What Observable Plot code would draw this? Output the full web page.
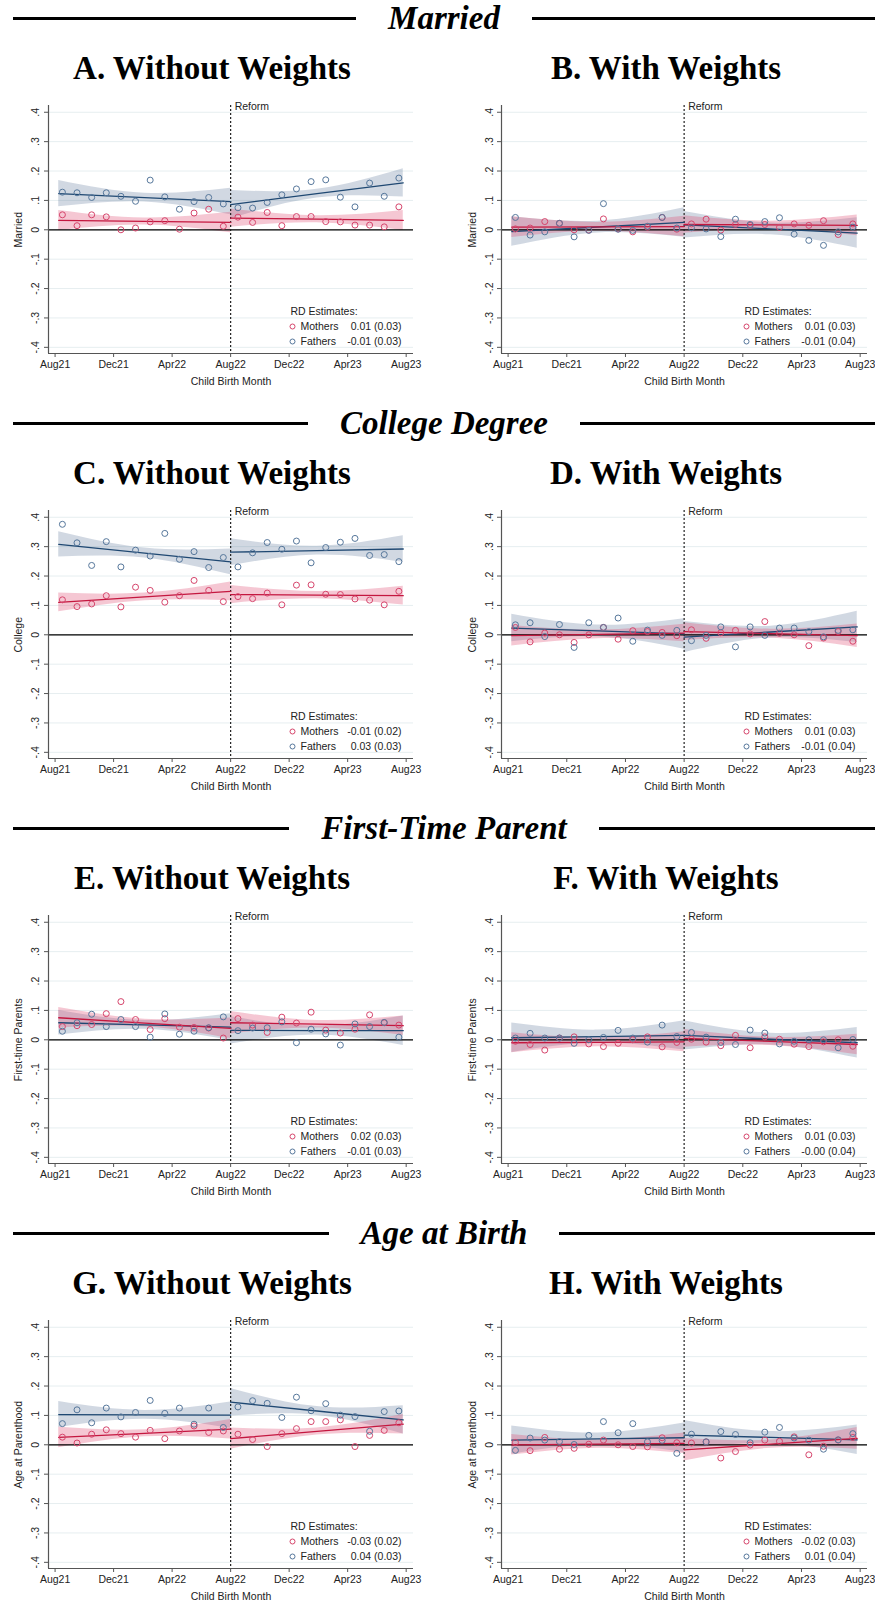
<!DOCTYPE html>
<html><head><meta charset="utf-8">
<script src="https://cdn.jsdelivr.net/npm/d3@7"></script>
<script src="https://cdn.jsdelivr.net/npm/@observablehq/plot@0.6"></script>
<style>
body{margin:0;width:875px;height:1604px;overflow:hidden;background:#fff}
#root{position:relative;width:875px;height:1604px}
.block{position:absolute;left:0;width:875px;height:405px}
.sec{position:absolute;left:13px;right:0;top:0;height:37px;display:flex;align-items:center}
.sec .ln{flex:1;height:2.5px;background:#000}
.sec .t{font:italic bold 33px "Liberation Serif",serif;padding:0 32px;line-height:37px;color:#000}
.sub{position:absolute;top:50px;line-height:40px;font:bold 33px "Liberation Serif",serif;transform:translateX(-50%);white-space:nowrap;color:#000}
.panel{position:absolute;top:92px}
.panel svg{overflow:visible}
</style>
</head><body><div id="root"></div>
<script>
// ---------- shared axes ----------
const monthPos = [0.5,1.5,2.5,3.5,4.5,5.5,6.5,7.5,8.5,9.5,10.5,11.5,12.5,13.5,14.5,15.5,16.5,17.5,18.5,19.5,20.5,21.5,22.5,23.5];
const xTicks = [0, 4, 8, 12, 16, 20, 24];
const xTickLabels = ["Aug21","Dec21","Apr22","Aug22","Dec22","Apr23","Aug23"];
const yTicks = [-0.4,-0.3,-0.2,-0.1,0,0.1,0.2,0.3,0.4];
const yTickLabels = ["-.4","-.3","-.2","-.1","0",".1",".2",".3",".4"];
const reformMonth = 12;
const fitRange = [0.25, 23.8];

// ---------- titles ----------
const sectionTitles = ["Married","College Degree","First-Time Parent","Age at Birth"];
const panelTitles = ["A. Without Weights","B. With Weights","C. Without Weights","D. With Weights","E. Without Weights","F. With Weights","G. Without Weights","H. With Weights"];
const yTitles = ["Married","College","First-time Parents","Age at Parenthood"];

// ---------- RD estimates (mothers, fathers) ----------
const estMothers = ["0.01 (0.03)","0.01 (0.03)","-0.01 (0.02)","0.01 (0.03)","0.02 (0.03)","0.01 (0.03)","-0.03 (0.02)","-0.02 (0.03)"];
const estFathers = ["-0.01 (0.03)","-0.01 (0.04)","0.03 (0.03)","-0.01 (0.04)","-0.01 (0.03)","-0.00 (0.04)","0.04 (0.03)","0.01 (0.04)"];

// ---------- binned means ----------
const marriedM  = [0.051,0.014,0.051,0.044,0.000,0.006,0.027,0.031,0.002,0.057,0.070,0.012, 0.043,0.025,0.059,0.014,0.045,0.045,0.028,0.027,0.016,0.016,0.010,0.078];
const marriedF  = [0.128,0.126,0.110,0.126,0.114,0.097,0.169,0.112,0.070,0.096,0.110,0.088, 0.075,0.074,0.093,0.119,0.139,0.164,0.170,0.111,0.078,0.159,0.114,0.176];
const marriedWM = [0.003,0.006,0.028,0.022,0.000,-0.001,0.037,0.003,-0.007,0.009,0.042,0.002, 0.020,0.036,-0.001,0.018,0.015,0.018,0.008,0.020,0.015,0.031,-0.016,0.020];
const marriedWF = [0.042,-0.018,-0.007,0.022,-0.024,-0.002,0.089,0.002,-0.002,0.012,0.042,0.006, 0.007,0.003,-0.023,0.036,0.018,0.028,0.041,-0.015,-0.036,-0.053,-0.007,0.009];
const collegeM  = [0.119,0.096,0.105,0.133,0.095,0.162,0.151,0.111,0.133,0.185,0.151,0.113, 0.130,0.123,0.142,0.102,0.169,0.170,0.138,0.137,0.122,0.118,0.102,0.148];
const collegeF  = [0.376,0.313,0.236,0.317,0.231,0.288,0.268,0.345,0.257,0.283,0.229,0.263, 0.231,0.279,0.314,0.291,0.319,0.245,0.297,0.315,0.328,0.270,0.273,0.249];
const collegeWM = [0.025,-0.024,0.006,0.000,-0.026,0.000,0.025,-0.015,0.014,0.011,0.008,-0.003, 0.017,-0.012,0.007,0.015,0.003,0.045,0.005,0.000,-0.037,-0.011,0.011,-0.022];
const collegeWF = [0.034,0.041,-0.006,0.035,-0.043,0.041,0.025,0.057,-0.022,0.016,-0.002,0.015, -0.020,-0.002,0.027,-0.041,0.027,-0.002,0.023,0.023,0.011,-0.007,0.015,0.017];
const firstM    = [0.045,0.048,0.052,0.089,0.130,0.069,0.035,0.072,0.043,0.042,0.040,0.006, 0.072,0.050,0.025,0.077,0.057,0.094,0.033,0.023,0.036,0.085,0.058,0.050];
const firstF    = [0.029,0.058,0.087,0.045,0.069,0.045,0.009,0.088,0.019,0.029,0.041,0.078, 0.031,0.040,0.041,0.061,-0.010,0.036,0.020,-0.018,0.054,0.045,0.059,0.009];
const firstWM   = [-0.005,-0.016,-0.035,0.006,0.010,-0.014,-0.023,-0.012,0.000,0.010,-0.024,-0.009, 0.002,-0.008,-0.020,0.015,-0.027,0.010,0.002,-0.015,-0.023,-0.007,0.000,-0.022];
const firstWF   = [0.006,0.022,0.006,0.006,-0.012,0.000,0.008,0.032,0.006,-0.008,0.050,0.011, 0.025,0.009,-0.009,-0.016,0.033,0.023,-0.014,-0.005,0.000,0.000,-0.027,0.001];
const ageM      = [0.026,0.006,0.036,0.051,0.038,0.026,0.049,0.021,0.047,0.064,0.042,0.047, 0.036,0.018,-0.006,0.038,0.055,0.079,0.079,0.085,-0.006,0.032,0.049,0.075];
const ageF      = [0.072,0.119,0.075,0.125,0.095,0.110,0.151,0.107,0.125,0.070,0.125,0.059, 0.129,0.150,0.141,0.093,0.162,0.116,0.140,0.101,0.096,0.046,0.113,0.115];
const ageWM     = [0.008,-0.020,0.025,-0.015,-0.012,0.002,0.016,0.000,-0.006,-0.007,0.024,0.007, 0.006,0.010,-0.045,-0.023,-0.001,0.016,0.012,0.027,-0.034,-0.005,0.016,0.025];
const ageWF     = [-0.019,0.023,0.016,0.011,0.001,0.032,0.079,0.041,0.072,0.010,0.015,-0.029, 0.036,0.010,0.045,0.035,0.007,0.043,0.059,0.023,0.016,-0.015,0.017,0.038];

// ---------- local linear fits: [preStart, preEnd, postStart, postEnd] ----------
const marriedMFit  = [0.032,0.025, 0.040,0.032];
const marriedFFit  = [0.123,0.096, 0.086,0.160];
const marriedWMFit = [0.009,0.011, 0.018,0.015];
const marriedWFFit = [-0.006,0.025, 0.017,-0.011];
const collegeMFit  = [0.110,0.148, 0.137,0.133];
const collegeFFit  = [0.308,0.248, 0.281,0.292];
const collegeWMFit = [-0.003,0.006, 0.011,-0.003];
const collegeWFFit = [0.023,0.003, -0.008,0.027];
const firstMFit    = [0.075,0.039, 0.058,0.048];
const firstFFit    = [0.058,0.043, 0.032,0.031];
const firstWMFit   = [-0.010,-0.007, 0.005,-0.016];
const firstWFFit   = [0.007,0.015, 0.015,-0.010];
const ageMFit      = [0.025,0.053, 0.021,0.070];
const ageFFit      = [0.103,0.101, 0.145,0.085];
const ageWMFit     = [0.000,0.005, -0.017,0.022];
const ageWFFit     = [0.016,0.024, 0.033,0.017];

// ---------- CI half-widths: [pre start, pre mid, pre end, post start, post mid, post end] ----------
const marriedMCI  = [0.034,0.012,0.035, 0.031,0.012,0.034];
const marriedFCI  = [0.045,0.015,0.045, 0.048,0.015,0.048];
const marriedWMCI = [0.035,0.015,0.035, 0.030,0.013,0.035];
const marriedWFCI = [0.050,0.020,0.050, 0.045,0.020,0.052];
const collegeMCI  = [0.032,0.013,0.032, 0.031,0.012,0.032];
const collegeFCI  = [0.043,0.017,0.044, 0.046,0.015,0.045];
const collegeWMCI = [0.035,0.015,0.030, 0.030,0.015,0.040];
const collegeWFCI = [0.047,0.020,0.052, 0.053,0.020,0.053];
const firstMCI    = [0.035,0.013,0.035, 0.038,0.013,0.033];
const firstFCI    = [0.042,0.015,0.046, 0.046,0.015,0.050];
const firstWMCI   = [0.034,0.015,0.034, 0.030,0.014,0.035];
const firstWFCI   = [0.050,0.022,0.050, 0.050,0.020,0.052];
const ageMCI      = [0.035,0.012,0.033, 0.036,0.012,0.033];
const ageFCI      = [0.044,0.015,0.045, 0.047,0.015,0.048];
const ageWMCI     = [0.035,0.014,0.035, 0.038,0.014,0.037];
const ageWFCI     = [0.048,0.020,0.050, 0.050,0.020,0.050];

// ---------- panel table ----------
const panels = [
  {m: marriedM,  f: marriedF,  mFit: marriedMFit,  fFit: marriedFFit,  mCI: marriedMCI,  fCI: marriedFCI},
  {m: marriedWM, f: marriedWF, mFit: marriedWMFit, fFit: marriedWFFit, mCI: marriedWMCI, fCI: marriedWFCI},
  {m: collegeM,  f: collegeF,  mFit: collegeMFit,  fFit: collegeFFit,  mCI: collegeMCI,  fCI: collegeFCI},
  {m: collegeWM, f: collegeWF, mFit: collegeWMFit, fFit: collegeWFFit, mCI: collegeWMCI, fCI: collegeWFCI},
  {m: firstM,    f: firstF,    mFit: firstMFit,    fFit: firstFFit,    mCI: firstMCI,    fCI: firstFCI},
  {m: firstWM,   f: firstWF,   mFit: firstWMFit,   fFit: firstWFFit,   mCI: firstWMCI,   fCI: firstWFCI},
  {m: ageM,      f: ageF,      mFit: ageMFit,      fFit: ageFFit,      mCI: ageMCI,      fCI: ageFCI},
  {m: ageWM,     f: ageWF,     mFit: ageWMFit,     fFit: ageWFFit,     mCI: ageWMCI,     fCI: ageWFCI}
];

const RED_PT = "#d6456c", RED_LN = "#c4173f", RED_BAND = "rgb(222,70,108)";
const BLUE_PT = "#56779b", BLUE_LN = "#1f4872", BLUE_BAND = "rgb(70,100,140)";
const X0 = -0.45, X1 = 24.5, Y0 = -0.421, Y1 = 0.423;

function fitRows(fit, ci) {
  const rows = [];
  [[fitRange[0], reformMonth, fit[0], fit[1], 0], [reformMonth, fitRange[1], fit[2], fit[3], 1]].forEach(([xa, xb, ya, yb, k]) => {
    const xs = [xa, (xa + xb) / 2, xb];
    const ys = [ya, (ya + yb) / 2, yb];
    xs.forEach((x, j) => rows.push({x, y: ys[j], lo: ys[j] - ci[k * 3 + j], hi: ys[j] + ci[k * 3 + j], side: k}));
  });
  return rows;
}

function makePanel(idx) {
  const p = panels[idx];
  const left = idx % 2 === 0;
  const W = left ? 437 : 438;
  const mL = left ? 48 : 64, mR = left ? 24 : 8;
  const mPts = p.m.map((v, i) => ({x: monthPos[i], y: v}));
  const fPts = p.f.map((v, i) => ({x: monthPos[i], y: v}));
  const mFit = fitRows(p.mFit, p.mCI), fFit = fitRows(p.fFit, p.fCI);
  const yRows = yTicks.map((v, i) => ({v, label: yTickLabels[i]}));
  const axisColor = "#555";
  return Plot.plot({
    width: W, height: 300,
    marginLeft: mL, marginRight: mR, marginTop: 13, marginBottom: 39,
    style: {fontFamily: "'Liberation Sans', Arial, sans-serif", fontSize: "10.5px", color: "#222", background: "#fff"},
    x: {domain: [X0, X1]},
    y: {domain: [Y0, Y1]},
    marks: [
      Plot.ruleY(yTicks, {stroke: "#e6eef0", strokeWidth: 1}),
      Plot.areaY(fFit, {x: "x", y1: "lo", y2: "hi", z: "side", curve: "natural", fill: BLUE_BAND, fillOpacity: 0.25}),
      Plot.areaY(mFit, {x: "x", y1: "lo", y2: "hi", z: "side", curve: "natural", fill: RED_BAND, fillOpacity: 0.3}),
      Plot.ruleY([0], {stroke: "#000", strokeWidth: 1.2}),
      Plot.ruleX([reformMonth], {stroke: "#222", strokeWidth: 1.2, strokeDasharray: "2,2"}),
      Plot.line(fFit, {x: "x", y: "y", z: "side", stroke: BLUE_LN, strokeWidth: 1.3}),
      Plot.line(mFit, {x: "x", y: "y", z: "side", stroke: RED_LN, strokeWidth: 1.3}),
      Plot.dot(mPts, {x: "x", y: "y", r: 3, stroke: RED_PT, strokeWidth: 1, fill: "none"}),
      Plot.dot(fPts, {x: "x", y: "y", r: 3, stroke: BLUE_PT, strokeWidth: 1, fill: "none"}),
      Plot.ruleX([X0], {stroke: axisColor, strokeWidth: 1.2}),
      Plot.ruleY([Y0], {stroke: axisColor, strokeWidth: 1.2}),
      Plot.axisX({ticks: xTicks, tickFormat: d => xTickLabels[xTicks.indexOf(d)], tickSize: 4, tickPadding: 3, label: null, stroke: axisColor, fill: "#222", fontSize: 10.5}),
      Plot.axisY({ticks: yTicks, tickFormat: () => "", tickSize: 4, label: null, stroke: axisColor}),
      Plot.text(yRows, {x: () => X0, y: "v", text: "label", rotate: -90, dx: left ? -13 : -12, textAnchor: "middle", lineAnchor: "middle", fill: "#222"}),
      Plot.text([yTitles[Math.floor(idx / 2)]], {x: () => X0, y: () => 0, text: d => d, rotate: -90, dx: left ? -30 : -29, textAnchor: "middle", lineAnchor: "middle", fill: "#222"}),
      Plot.text(["Child Birth Month"], {frameAnchor: "bottom", text: d => d, dy: 28, lineAnchor: "middle", fill: "#222"}),
      Plot.text(["Reform"], {x: () => reformMonth, y: () => Y1, text: d => d, dx: 4, dy: 1, textAnchor: "start", lineAnchor: "middle", fill: "#222"}),
      Plot.text(["RD Estimates:"], {frameAnchor: "bottom-right", text: d => d, dx: -123, dy: -42, textAnchor: "start", lineAnchor: "middle", fill: "#222"}),
      Plot.dot([0], {frameAnchor: "bottom-right", dx: -121, dy: -27, r: 2.5, stroke: RED_PT, strokeWidth: 1, fill: "none"}),
      Plot.dot([0], {frameAnchor: "bottom-right", dx: -121, dy: -12, r: 2.5, stroke: BLUE_PT, strokeWidth: 1, fill: "none"}),
      Plot.text(["Mothers"], {frameAnchor: "bottom-right", text: d => d, dx: -113, dy: -27, textAnchor: "start", lineAnchor: "middle", fill: "#222"}),
      Plot.text(["Fathers"], {frameAnchor: "bottom-right", text: d => d, dx: -113, dy: -12, textAnchor: "start", lineAnchor: "middle", fill: "#222"}),
      Plot.text([estMothers[idx]], {frameAnchor: "bottom-right", text: d => d, dx: -12, dy: -27, textAnchor: "end", lineAnchor: "middle", fill: "#222"}),
      Plot.text([estFathers[idx]], {frameAnchor: "bottom-right", text: d => d, dx: -12, dy: -12, textAnchor: "end", lineAnchor: "middle", fill: "#222"})
    ]
  });
}

const root = document.getElementById("root");
sectionTitles.forEach((title, r) => {
  const block = document.createElement("div");
  block.className = "block";
  block.style.top = (r * 405) + "px";
  block.innerHTML = `<div class="sec"><div class="ln"></div><div class="t">${title}</div><div class="ln"></div></div>` +
    `<div class="sub" style="left:212px">${panelTitles[r * 2]}</div>` +
    `<div class="sub" style="left:666px">${panelTitles[r * 2 + 1]}</div>`;
  [0, 1].forEach(c => {
    const holder = document.createElement("div");
    holder.className = "panel";
    holder.style.left = (c === 0 ? 0 : 437) + "px";
    holder.appendChild(makePanel(r * 2 + c));
    block.appendChild(holder);
  });
  root.appendChild(block);
});
</script>
</body></html>
